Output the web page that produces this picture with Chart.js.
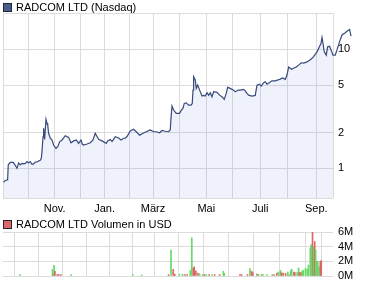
<!DOCTYPE html>
<html>
<head>
<meta charset="utf-8">
<script src="https://cdn.jsdelivr.net/npm/chart.js@4/dist/chart.umd.min.js"></script>
<style>
  html, body { margin: 0; padding: 0; background: #fff; width: 375px; height: 285px; overflow: hidden; }
  body { font-family: "Liberation Sans", Arial, sans-serif; position: relative; }
  canvas { position: absolute; left: 0; }
  #priceChart { top: 0; }
  #volChart { top: 215px; }
  .title { position: absolute; left: 3px; font-size: 11px; line-height: 12px; color: #000; white-space: nowrap; z-index: 2; }
  .title i { display: inline-block; width: 7px; height: 7px; border: 1px solid #1e2536; margin-right: 4px; vertical-align: -1px; }
</style>
</head>
<body>
<canvas id="priceChart" width="375" height="215"></canvas>
<canvas id="volChart" width="375" height="70"></canvas>
<div class="title" style="top:1px"><i style="background:#4a5d8e"></i>RADCOM LTD (Nasdaq)</div>
<div class="title" style="top:218px"><i style="background:#dd6666"></i>RADCOM LTD Volumen in USD</div>
<script>
// x axis unit: trading days since start of the window
const dayRange = [0, 264];
const monthStarts = [20.5, 41.3, 61.8, 81.3, 101.3, 120, 141.3, 162.6, 183.7, 205.8, 227.7, 250.6];
const monthLabels = ['Okt.', 'Nov.', 'Dez.', 'Jan.', 'Feb.', 'März', 'Apr.', 'Mai', 'Juni', 'Juli', 'Aug.', 'Sep.'];
const shownMonths = ['Nov.', 'Jan.', 'März', 'Mai', 'Juli', 'Sep.'];

const priceRange = [0.563, 20.2];
const priceTicks = [1, 2, 5, 10];
const volumeTicks = [0, 2, 4, 6];

const priceDays = [0.5, 1.8, 3.7, 4.2, 5.8, 8.2, 9.8, 11.2, 12.5, 13.8,
  15.2, 16.5, 17.8, 19.2, 20.5, 21.8, 23.2, 24.5, 25.8, 27.2,
  28.5, 29.8, 30.6, 31.2, 32, 32.5, 33.3, 34.4, 35.2, 35.8,
  36.5, 37.8, 39.2, 40.5, 42.4, 43.8, 45.3, 47.2, 48.5, 49.8,
  52.5, 54.4, 56.5, 58.6, 60.5, 62.4, 63.4, 64.5, 67.2, 69.8,
  72, 73.8, 75.2, 76.5, 79.2, 81, 82.6, 83.7, 85.8, 87.2,
  89.8, 92.5, 94.4, 96.5, 97.8, 99.2, 101.8, 104.5, 106.6, 109.3,
  112, 114.6, 117.8, 120.5, 122.6, 125.3, 127.2, 129.8, 132.5, 133.8,
  134.4, 135.2, 136.5, 138.6, 141.3, 142.4, 144, 145, 146.6, 148.5,
  150.4, 151.4, 152, 152.5, 153.8, 154.6, 155.7, 157.3, 159.2, 160.5,
  161.8, 163.2, 164.5, 165.8, 167.2, 168.5, 171.2, 173.3, 175.2, 177,
  178.6, 179.7, 181.8, 184.5, 185.8, 188.2, 190, 192, 193.3, 195.2,
  196.5, 199.2, 201.8, 203.2, 205, 206.6, 208.5, 209.8, 211.2, 213,
  215.2, 217.8, 220, 221.8, 223.7, 225.8, 227.2, 228.5, 230.9, 232.5,
  234.6, 236.5, 238.6, 240.5, 243.2, 245, 246.6, 248.5, 251.2, 253.3,
  254.4, 255.2, 256, 257, 258.6, 259.7, 261.3, 262.4, 264, 265.8,
  267.2, 269.3, 271.2, 273.8, 275.7, 277.3, 278.4];

const prices = [0.76, 0.79, 0.80, 1.07, 1.12, 1.12, 1.06, 1.00, 1.11, 1.07,
  1.10, 1.09, 1.10, 1.14, 1.11, 1.14, 1.08, 1.09, 1.13, 1.13,
  1.15, 1.17, 1.21, 1.38, 1.84, 2.17, 1.75, 2.58, 2.39, 2.30,
  1.97, 1.79, 1.73, 1.57, 1.47, 1.52, 1.67, 1.73, 1.80, 1.88,
  1.82, 1.64, 1.70, 1.73, 1.62, 1.73, 1.60, 1.57, 1.60, 1.64,
  1.73, 1.97, 1.85, 1.75, 1.70, 1.66, 1.62, 1.70, 1.75, 1.68,
  1.84, 1.80, 1.73, 1.79, 1.79, 1.85, 2.06, 2.13, 2.03, 1.90,
  1.97, 2.03, 2.10, 2.03, 2.03, 1.99, 2.08, 2.05, 2.03, 2.10,
  2.63, 3.34, 3.09, 2.90, 2.90, 3.05, 3.20, 3.51, 3.55, 3.40,
  3.40, 3.50, 4.54, 5.89, 5.53, 4.70, 5.00, 4.54, 4.05, 4.10,
  4.05, 4.32, 4.10, 4.32, 3.99, 4.40, 4.35, 4.12, 3.99, 3.80,
  4.26, 4.79, 4.70, 4.54, 4.40, 4.55, 4.54, 4.61, 4.54, 4.26,
  4.12, 4.05, 4.10, 5.00, 5.10, 4.91, 5.25, 5.34, 5.10, 5.25,
  5.44, 5.44, 5.53, 5.62, 5.75, 5.59, 6.08, 7.10, 6.80, 6.93,
  7.10, 7.37, 7.71, 7.65, 7.85, 8.05, 8.30, 8.67, 9.52, 10.6,
  11.2, 12.6, 11.2, 9.52, 8.93, 10.5, 10.6, 9.9, 8.93, 8.93,
  9.9, 11.6, 13.2, 13.8, 14.3, 14.7, 12.9];

// volume in millions USD, 1 = up day (green), 0 = down day (red)
const volDays = [4.5, 32.5, 33, 33.8, 34.6, 36.5, 37.8, 39.7, 48.5, 101.8,
  109.3, 132.5, 134.6, 136.5, 137.8, 141.8, 144.5, 146.6, 148.5, 151.2,
  152.5, 153.8, 154.6, 156, 157.8, 159.2, 161.8, 163.4, 165, 167.4,
  169.8, 172.2, 176.5, 179.7, 180.5, 194, 195.4, 200.5, 202.6, 204,
  205, 208.5, 209.8, 212.5, 213.8, 217.3, 221.8, 223.4, 225.8, 227.2,
  229, 229.8, 231.2, 233.3, 235.2, 236.5, 237.8, 238.6, 240.5, 241.3,
  243.2, 244.5, 245.3, 246.6, 247.7, 248.5, 250.4, 252, 253, 254.6,
  255.2, 256.5, 257.3, 258.4, 259.2, 260, 261, 262, 263.2, 264];
const volumes = [0.2, 0.9, 0.2, 1.45, 0.65, 0.2, 0.2, 0.2, 0.2, 0.2,
  0.15, 0.2, 3.55, 0.9, 0.25, 0.2, 0.25, 0.2, 0.2, 0.75,
  5.2, 1.1, 1.25, 0.7, 0.4, 0.3, 0.2, 0.2, 0.2, 0.2,
  0.2, 0.2, 0.2, 0.65, 0.35, 0.2, 0.2, 0.2, 1.0, 0.65,
  0.45, 0.3, 0.2, 0.2, 0.2, 0.2, 0.2, 0.2, 0.4, 0.55,
  0.75, 0.45, 0.35, 0.35, 0.55, 0.2, 0.75, 0.9, 0.55, 0.45,
  0.45, 1.1, 0.5, 0.45, 0.7, 0.75, 1.05, 0.95, 1.5, 3.8,
  4.25, 6.0, 4.0, 4.7, 3.55, 2.0, 2.0, 1.25, 2.0, 2.1];
const volUp = [1, 1, 0, 1, 0, 0, 0, 0, 1, 1,
  1, 0, 1, 0, 0, 1, 1, 0, 0, 1,
  1, 0, 0, 0, 0, 1, 1, 0, 1, 0,
  1, 0, 0, 1, 1, 0, 0, 0, 1, 0,
  0, 1, 0, 1, 1, 1, 1, 0, 0, 1,
  1, 0, 0, 0, 1, 1, 1, 1, 0, 0,
  1, 1, 0, 0, 1, 1, 1, 1, 1, 1,
  1, 0, 1, 0, 1, 1, 1, 1, 0, 0];

const GRID = '#dcdcdc';
const LINE = '#384a7c';
const font = { family: '"Liberation Sans", Arial, sans-serif', size: 11 };

Chart.defaults.font = font;
Chart.defaults.color = '#000';
Chart.defaults.animation = false;

// fixed axis sizes, no extra label padding, so the plot box lands where the original one is
function fixSize(prop, size) {
  return (s) => {
    s[prop] = size;
    s.paddingTop = 0;
    s.paddingBottom = 0;
    s.paddingLeft = 0;
    s.paddingRight = 0;
  };
}

function monthAxis(showLabels, height) {
  return {
    type: 'linear',
    bounds: 'data',
    afterDataLimits: (s) => { s.min = dayRange[0]; s.max = dayRange[1]; },
    afterBuildTicks: (s) => {
      s.ticks = [dayRange[0], ...monthStarts, dayRange[1]].map((v) => ({ value: v }));
    },
    afterFit: fixSize('height', height),
    grid: { color: GRID, drawTicks: false, offset: false },
    border: { display: false },
    ticks: {
      display: showLabels,
      autoSkip: false,
      maxRotation: 0,
      padding: 4,
      callback: (v) => {
        const i = monthStarts.indexOf(v);
        return i >= 0 && shownMonths.includes(monthLabels[i]) ? monthLabels[i] : '';
      }
    }
  };
}

const allPts = priceDays.map((d, i) => ({ x: d, y: prices[i] }));
const fillPts = allPts.filter((p) => p.x <= dayRange[1]);

new Chart(document.getElementById('priceChart'), {
  type: 'line',
  data: {
    datasets: [
      { data: allPts, fill: false, borderColor: LINE, borderWidth: 1.2, pointRadius: 0, tension: 0, clip: false },
      { data: fillPts, fill: 'start', backgroundColor: 'rgba(80, 110, 210, 0.09)', borderWidth: 0, pointRadius: 0, tension: 0 }
    ]
  },
  options: {
    responsive: false,
    layout: { padding: { left: 3, top: 13, right: 0, bottom: 0 } },
    plugins: { legend: { display: false }, tooltip: { enabled: false } },
    scales: {
      x: monthAxis(true, 17),
      y: {
        type: 'logarithmic',
        position: 'right',
        min: priceRange[0],
        max: priceRange[1],
        afterBuildTicks: (s) => {
          s.ticks = [priceRange[0], ...priceTicks, priceRange[1]].map((v) => ({ value: v }));
        },
        afterFit: fixSize('width', 42),
        grid: { color: GRID, drawTicks: false },
        border: { display: false },
        ticks: {
          autoSkip: false,
          padding: 5,
          callback: (v) => (priceTicks.includes(v) ? String(v) : '')
        }
      }
    }
  }
});

new Chart(document.getElementById('volChart'), {
  type: 'bar',
  data: {
    datasets: [
      {
        data: volDays.map((d, i) => ({ x: d, y: volumes[i] })),
        backgroundColor: volUp.map((u) => (u ? '#66d966' : '#dd6666')),
        barThickness: 1
      }
    ]
  },
  options: {
    responsive: false,
    layout: { padding: { left: 3, top: 17, right: 0, bottom: 0 } },
    plugins: { legend: { display: false }, tooltip: { enabled: false } },
    scales: {
      x: monthAxis(false, 9),
      y: {
        type: 'linear',
        position: 'right',
        min: volumeTicks[0],
        max: volumeTicks[volumeTicks.length - 1],
        afterBuildTicks: (s) => { s.ticks = volumeTicks.map((v) => ({ value: v })); },
        afterFit: fixSize('width', 42),
        grid: { color: GRID, drawTicks: false },
        border: { display: false },
        ticks: { autoSkip: false, padding: 5, callback: (v) => v + 'M' }
      }
    }
  }
});
</script>
</body>
</html>
